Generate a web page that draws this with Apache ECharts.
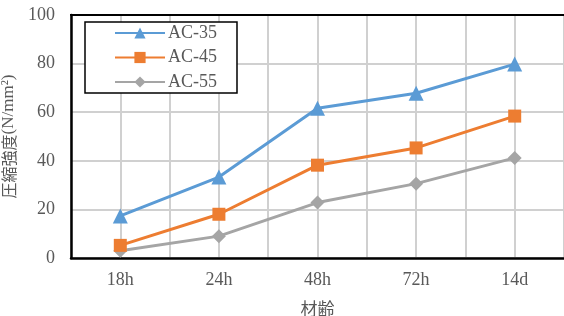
<!DOCTYPE html>
<html>
<head>
<meta charset="utf-8">
<script src="https://cdn.jsdelivr.net/npm/echarts@6/dist/echarts.min.js"></script>
<style>
html, body { margin: 0; padding: 0; background: #fff; }
#chart { width: 564px; height: 316px; }
</style>
</head>
<body>
<div id="chart"></div>
<script>
const categories = ['18h', '24h', '48h', '72h', '14d']
const ac35 = [17.3, 33.3, 61.6, 67.8, 79.8]
const ac45 = [5.2, 18.0, 38.2, 45.3, 58.4]
const ac55 = [3.0, 9.0, 22.8, 30.6, 41.2]
const yTicks = [0, 20, 40, 60, 80, 100]

const font = '"Liberation Serif", "Noto Sans CJK JP", serif'
const cjkFont = '"Noto Sans CJK JP", sans-serif'
const textColor = '#595959'
const gridColor = '#d0d0d0'

// category i sits at the centre of slot i: x = 2i + 1 on a 0..10 value axis
const toPoints = arr => arr.map((v, i) => [2 * i + 1, v])

const lineSeries = (name, data, symbol, size, color, z) => ({
    name: name,
    type: 'line',
    data: toPoints(data),
    symbol: symbol,
    symbolSize: size,
    lineStyle: { color: color, width: 3 },
    itemStyle: { color: color },
    z: z
})

const myChart = echarts.init(document.getElementById('chart'))
myChart.setOption({
    animation: false,
    textStyle: { fontFamily: font },
    grid: {
        left: 71,
        right: 0,
        top: 15,
        bottom: 58,
        outerBoundsMode: 'none',
        containLabel: false,
        show: true,
        backgroundColor: 'transparent',
        borderColor: '#000',
        borderWidth: 2
    },
    legend: {
        orient: 'vertical',
        left: 85,
        top: 22,
        padding: [2, 20, 2, 29],
        itemWidth: 50,
        itemHeight: 14,
        itemGap: 6.5,
        borderColor: '#000',
        borderWidth: 1.5,
        backgroundColor: '#fff',
        textStyle: { color: textColor, fontSize: 18, fontFamily: font, padding: [0, 0, 0, -2] }
    },
    xAxis: [{
        type: 'value',
        min: 0,
        max: 10,
        interval: 1,
        name: '{c|材齢}',
        nameLocation: 'middle',
        nameGap: 42,
        nameTextStyle: { color: textColor, fontSize: 17, rich: { c: { fontFamily: cjkFont, fontSize: 17, color: textColor } } },
        axisLine: { show: true, onZero: false, lineStyle: { color: '#000', width: 2.5 } },
        axisTick: { show: false },
        axisLabel: {
            color: textColor,
            fontSize: 18,
            margin: 13,
            formatter: v => (v % 2 === 1 ? categories[(v - 1) / 2] : '')
        },
        splitLine: { show: true, lineStyle: { color: gridColor, width: 2, type: 'solid' } }
    }, {
        type: 'value',
        min: 0,
        max: 10,
        interval: 1,
        position: 'top',
        axisLine: { show: true, onZero: false, lineStyle: { color: '#000', width: 2 } },
        axisTick: { show: false },
        axisLabel: { show: false },
        splitLine: { show: false }
    }],
    yAxis: {
        type: 'value',
        min: yTicks[0],
        max: yTicks[yTicks.length - 1],
        interval: 20,
        name: '{c|圧縮強度}{s|(N/mm²)}',
        nameLocation: 'middle',
        nameGap: 54,
        nameRotate: 90,
        nameTextStyle: {
            color: textColor,
            fontSize: 17,
            rich: {
                c: { fontFamily: cjkFont, fontSize: 16, color: textColor },
                s: { fontFamily: font, fontSize: 17, color: textColor }
            }
        },
        axisLine: { show: true, onZero: false, lineStyle: { color: '#000', width: 2.5 } },
        axisTick: { show: false },
        axisLabel: { color: textColor, fontSize: 18, margin: 16 },
        splitLine: { lineStyle: { color: gridColor, width: 2 } }
    },
    series: [
        lineSeries('AC-35', ac35, 'triangle', 15, '#5b9bd5', 5),
        lineSeries('AC-45', ac45, 'rect', 13, '#ed7d31', 4),
        lineSeries('AC-55', ac55, 'diamond', 14, '#a5a5a5', 3)
    ]
})
</script>
</body>
</html>
